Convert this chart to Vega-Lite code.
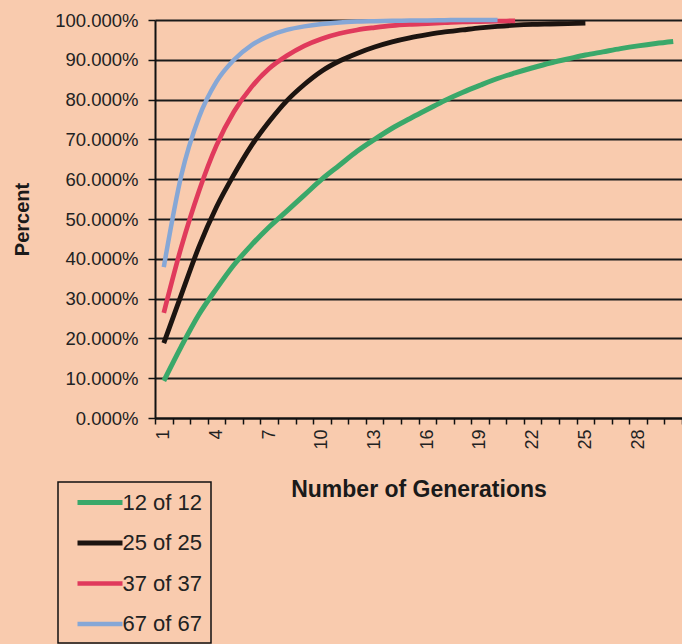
{
  "$schema": "https://vega.github.io/schema/vega-lite/v6.json",
  "width": 527,
  "height": 398,
  "autosize": {"type": "none"},
  "padding": {"left": 155, "top": 20, "right": 0, "bottom": 226},
  "background": "#f9cbae",
  "config": {"view": {"stroke": null}, "font": "Liberation Sans", "legend": {"strokeWidth": 1.5}},
  "datasets": {
    "rows": [
      {"gen":1,"series":"12 of 12","pct":0.093},{"gen":2,"series":"12 of 12","pct":0.18},{"gen":3,"series":"12 of 12","pct":0.26},{"gen":4,"series":"12 of 12","pct":0.325},{"gen":5,"series":"12 of 12","pct":0.385},{"gen":6,"series":"12 of 12","pct":0.435},{"gen":7,"series":"12 of 12","pct":0.48},{"gen":8,"series":"12 of 12","pct":0.52},{"gen":9,"series":"12 of 12","pct":0.56},{"gen":10,"series":"12 of 12","pct":0.6},{"gen":11,"series":"12 of 12","pct":0.635},{"gen":12,"series":"12 of 12","pct":0.67},{"gen":13,"series":"12 of 12","pct":0.7},{"gen":14,"series":"12 of 12","pct":0.728},{"gen":15,"series":"12 of 12","pct":0.752},{"gen":16,"series":"12 of 12","pct":0.775},{"gen":17,"series":"12 of 12","pct":0.798},{"gen":18,"series":"12 of 12","pct":0.818},{"gen":19,"series":"12 of 12","pct":0.836},{"gen":20,"series":"12 of 12","pct":0.853},{"gen":21,"series":"12 of 12","pct":0.867},{"gen":22,"series":"12 of 12","pct":0.88},{"gen":23,"series":"12 of 12","pct":0.892},{"gen":24,"series":"12 of 12","pct":0.902},{"gen":25,"series":"12 of 12","pct":0.912},{"gen":26,"series":"12 of 12","pct":0.92},{"gen":27,"series":"12 of 12","pct":0.928},{"gen":28,"series":"12 of 12","pct":0.935},{"gen":29,"series":"12 of 12","pct":0.941},{"gen":30,"series":"12 of 12","pct":0.946},
      {"gen":1,"series":"25 of 25","pct":0.188},{"gen":2,"series":"25 of 25","pct":0.31},{"gen":3,"series":"25 of 25","pct":0.43},{"gen":4,"series":"25 of 25","pct":0.53},{"gen":5,"series":"25 of 25","pct":0.612},{"gen":6,"series":"25 of 25","pct":0.685},{"gen":7,"series":"25 of 25","pct":0.745},{"gen":8,"series":"25 of 25","pct":0.797},{"gen":9,"series":"25 of 25","pct":0.838},{"gen":10,"series":"25 of 25","pct":0.872},{"gen":11,"series":"25 of 25","pct":0.897},{"gen":12,"series":"25 of 25","pct":0.916},{"gen":13,"series":"25 of 25","pct":0.932},{"gen":14,"series":"25 of 25","pct":0.945},{"gen":15,"series":"25 of 25","pct":0.955},{"gen":16,"series":"25 of 25","pct":0.963},{"gen":17,"series":"25 of 25","pct":0.97},{"gen":18,"series":"25 of 25","pct":0.975},{"gen":19,"series":"25 of 25","pct":0.98},{"gen":20,"series":"25 of 25","pct":0.984},{"gen":21,"series":"25 of 25","pct":0.987},{"gen":22,"series":"25 of 25","pct":0.989},{"gen":23,"series":"25 of 25","pct":0.99},{"gen":24,"series":"25 of 25","pct":0.991},{"gen":25,"series":"25 of 25","pct":0.992},
      {"gen":1,"series":"37 of 37","pct":0.264},{"gen":2,"series":"37 of 37","pct":0.43},{"gen":3,"series":"37 of 37","pct":0.57},{"gen":4,"series":"37 of 37","pct":0.685},{"gen":5,"series":"37 of 37","pct":0.77},{"gen":6,"series":"37 of 37","pct":0.832},{"gen":7,"series":"37 of 37","pct":0.878},{"gen":8,"series":"37 of 37","pct":0.91},{"gen":9,"series":"37 of 37","pct":0.935},{"gen":10,"series":"37 of 37","pct":0.953},{"gen":11,"series":"37 of 37","pct":0.966},{"gen":12,"series":"37 of 37","pct":0.975},{"gen":13,"series":"37 of 37","pct":0.981},{"gen":14,"series":"37 of 37","pct":0.986},{"gen":15,"series":"37 of 37","pct":0.989},{"gen":16,"series":"37 of 37","pct":0.991},{"gen":17,"series":"37 of 37","pct":0.993},{"gen":18,"series":"37 of 37","pct":0.995},{"gen":19,"series":"37 of 37","pct":0.996},{"gen":20,"series":"37 of 37","pct":0.997},{"gen":21,"series":"37 of 37","pct":0.998},
      {"gen":1,"series":"67 of 67","pct":0.379},{"gen":2,"series":"67 of 67","pct":0.61},{"gen":3,"series":"67 of 67","pct":0.755},{"gen":4,"series":"67 of 67","pct":0.845},{"gen":5,"series":"67 of 67","pct":0.9},{"gen":6,"series":"67 of 67","pct":0.937},{"gen":7,"series":"67 of 67","pct":0.96},{"gen":8,"series":"67 of 67","pct":0.975},{"gen":9,"series":"67 of 67","pct":0.984},{"gen":10,"series":"67 of 67","pct":0.99},{"gen":11,"series":"67 of 67","pct":0.994},{"gen":12,"series":"67 of 67","pct":0.996},{"gen":13,"series":"67 of 67","pct":0.997},{"gen":14,"series":"67 of 67","pct":0.998},{"gen":15,"series":"67 of 67","pct":0.999},{"gen":16,"series":"67 of 67","pct":0.999},{"gen":17,"series":"67 of 67","pct":0.9995},{"gen":18,"series":"67 of 67","pct":1.0},{"gen":19,"series":"67 of 67","pct":1.0},{"gen":20,"series":"67 of 67","pct":1.0}
    ]
  },
  "data": {"name": "rows"},
  "mark": {"type": "line", "interpolate": "monotone"},
  "encoding": {
    "x": {
      "field": "gen", "type": "ordinal", "bandPosition": 0.5,
      "scale": {"type": "band", "paddingInner": 0, "paddingOuter": 0, "domain": [1,2,3,4,5,6,7,8,9,10,11,12,13,14,15,16,17,18,19,20,21,22,23,24,25,26,27,28,29,30]},
      "axis": {
        "title": "Number of Generations", "titleFontSize": 23, "titleFontWeight": "bold", "titleColor": "#1a1a1a",
        "labelAngle": -90, "labelFontSize": 18, "labelColor": "#222", "labelOverlap": false,
        "labelExpr": "(datum.value - 1) % 3 == 0 ? datum.label : ''",
        "tickBand": "extent", "tickSize": 6, "tickColor": "#111", "tickWidth": 1.5,
        "domainColor": "#111", "domainWidth": 2, "labelPadding": 5, "titlePadding": 29, "grid": false
      }
    },
    "y": {
      "field": "pct", "type": "quantitative",
      "scale": {"domain": [0, 1], "nice": false},
      "axis": {
        "title": "Percent", "format": ".3%", "values": [0,0.1,0.2,0.3,0.4,0.5,0.6,0.7,0.8,0.9,1],
        "grid": true, "gridColor": "#1a1a1a", "gridWidth": 1.9,
        "labelFontSize": 18.5, "labelColor": "#222", "tickSize": 7, "tickColor": "#111", "tickWidth": 1.5,
        "domainColor": "#111", "domainWidth": 2, "labelPadding": 10,
        "titleFontSize": 20, "titleFontWeight": "bold", "titleColor": "#1a1a1a", "titlePadding": 22
      }
    },
    "color": {
      "field": "series", "type": "nominal",
      "scale": {"domain": ["12 of 12","25 of 25","37 of 37","67 of 67"], "range": ["#3aa86a","#1c1410","#e03a5c","#86a7d6"]},
      "legend": {
        "orient": "none", "legendX": -97, "legendY": 462, "title": null,
        "symbolType": "M-2.25,0H2.25", "symbolSize": 400, "symbolStrokeWidth": 3,
        "symbolOffset": 21.5,
        "labelFontSize": 22, "labelColor": "#222", "strokeColor": "#111",
        "labelExpr": "datum.label + '\u00a0\u00a0\u00a0\u00a0\u00a0\u00a0'",
        "padding": 8, "rowPadding": 16.5, "labelOffset": 10
      }
    },
    "strokeWidth": {
      "field": "series", "type": "ordinal",
      "scale": {"domain": ["12 of 12","25 of 25","37 of 37","67 of 67"], "range": [5, 4.5, 2.6, 3.2]},
      "legend": null
    }
  }
}
